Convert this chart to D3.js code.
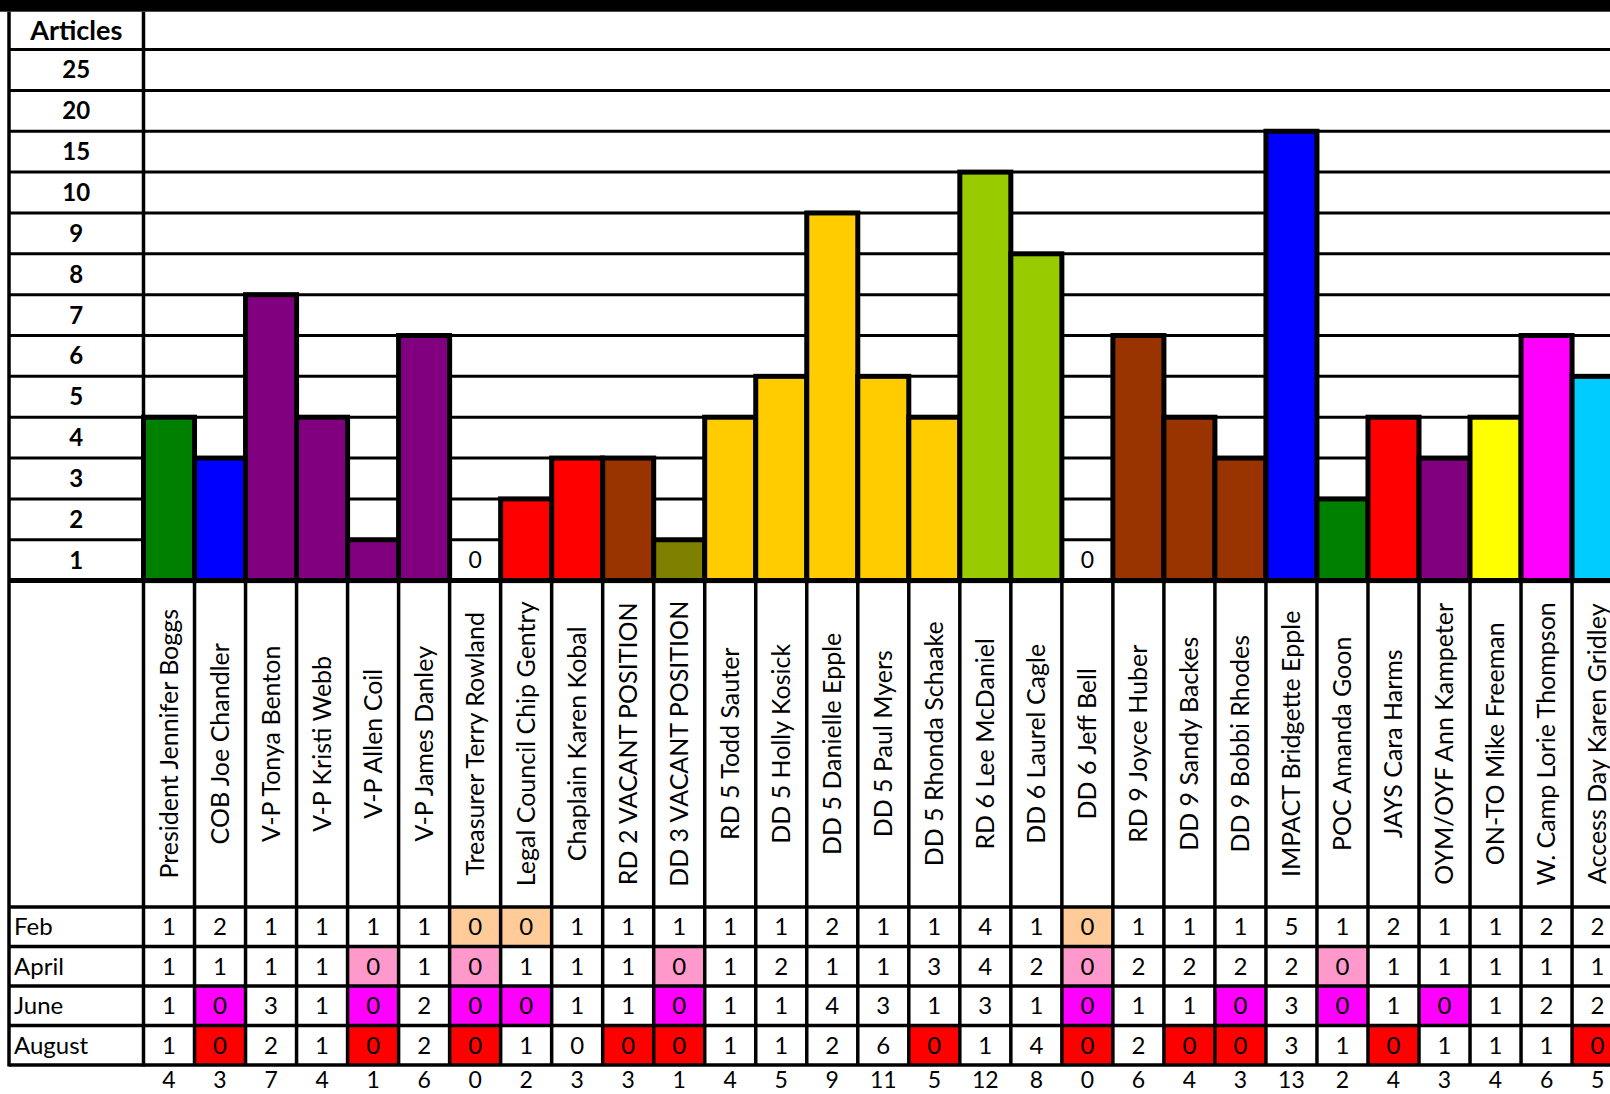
<!DOCTYPE html>
<html>
<head>
<meta charset="utf-8">
<script src="https://cdn.jsdelivr.net/npm/d3@7"></script>
<style>
  html, body { margin: 0; padding: 0; background: #fff; }
  svg { display: block; }
  text { font-family: "Gill Sans", "Gill Sans MT", Lato, "Open Sans", sans-serif; fill: #000; }
</style>
</head>
<body>
<div id="chart"></div>
<script>
// names along the x axis
var categories = ["President Jennifer Boggs", "COB Joe Chandler", "V-P Tonya Benton", "V-P Kristi Webb",
  "V-P Allen Coil", "V-P James Danley", "Treasurer Terry Rowland", "Legal Council Chip Gentry",
  "Chaplain Karen Kobal", "RD 2 VACANT POSITION", "DD 3 VACANT POSITION", "RD 5 Todd Sauter",
  "DD 5 Holly Kosick", "DD 5 Danielle Epple", "DD 5 Paul Myers", "DD 5 Rhonda Schaake",
  "RD 6 Lee McDaniel", "DD 6 Laurel Cagle", "DD 6 Jeff Bell", "RD 9 Joyce Huber",
  "DD 9 Sandy Backes", "DD 9 Bobbi Rhodes", "IMPACT Bridgette Epple", "POC Amanda Goon",
  "JAYS Cara Harms", "OYM/OYF Ann Kampeter", "ON-TO Mike Freeman", "W. Camp Lorie Thompson",
  "Access Day Karen Gridley"];

// bar heights as drawn in the chart
var barValues = [4, 3, 7, 4, 1, 6, 0, 2, 3, 3, 1, 4, 5, 9, 5, 4, 10, 8, 0, 6, 4, 3, 15, 2, 4, 3, 4, 6, 5];

var barColors = ["#008000", "#0000FF", "#800080", "#800080", "#800080", "#800080", "#FFFFFF", "#FF0000",
  "#FF0000", "#993300", "#808000", "#FFCC00", "#FFCC00", "#FFCC00", "#FFCC00", "#FFCC00",
  "#99CC00", "#99CC00", "#FFFFFF", "#993300", "#993300", "#993300", "#0000FF", "#008000",
  "#FF0000", "#800080", "#FFFF00", "#FF00FF", "#00CCFF"];

// y axis ticks (uneven steps)
var yTicks = [1, 2, 3, 4, 5, 6, 7, 8, 9, 10, 15, 20, 25];

// table below the chart
var months = ["Feb", "April", "June", "August"];
var febValues    = [1, 2, 1, 1, 1, 1, 0, 0, 1, 1, 1, 1, 1, 2, 1, 1, 4, 1, 0, 1, 1, 1, 5, 1, 2, 1, 1, 2, 2];
var aprilValues  = [1, 1, 1, 1, 0, 1, 0, 1, 1, 1, 0, 1, 2, 1, 1, 3, 4, 2, 0, 2, 2, 2, 2, 0, 1, 1, 1, 1, 1];
var juneValues   = [1, 0, 3, 1, 0, 2, 0, 0, 1, 1, 0, 1, 1, 4, 3, 1, 3, 1, 0, 1, 1, 0, 3, 0, 1, 0, 1, 2, 2];
var augustValues = [1, 0, 2, 1, 0, 2, 0, 1, 0, 0, 0, 1, 1, 2, 6, 0, 1, 4, 0, 2, 0, 0, 3, 1, 0, 1, 1, 1, 0];
var zeroColors = ["#FFCC99", "#FF99CC", "#FF00FF", "#FF0000"];
var plainZeros = [["August", "Chaplain Karen Kobal"]];

var tableRows = [febValues, aprilValues, juneValues, augustValues];
var totals = categories.map(function(c, i) {
  return d3.sum(tableRows, function(r) { return r[i]; });
});

var width = 1610, height = 1094;
var leftX = 9, colLeft = 143.5, colW = 51.02;
var baseY = 580.6, step = 40.85, headTop = 11.7;
var labelBottom = 907;
var rowH = 39.5;
var tableBottom = labelBottom + rowH * months.length;

var svg = d3.select("#chart").append("svg")
  .attr("width", width)
  .attr("height", height);

svg.append("rect").attr("width", width).attr("height", height).attr("fill", "#fff");

var x = d3.scaleBand()
  .domain(categories)
  .range([colLeft, colLeft + colW * categories.length]);

var yDomain = [0].concat(yTicks);
var y = d3.scaleLinear()
  .domain(yDomain)
  .range(yDomain.map(function(d, i) { return baseY - i * step; }));

// black strip on top
svg.append("rect").attr("x", 0).attr("y", 0).attr("width", width).attr("height", headTop).attr("fill", "#000");

// horizontal grid lines
svg.selectAll("line.grid")
  .data(yTicks)
  .enter().append("line")
  .attr("class", "grid")
  .attr("x1", leftX).attr("x2", width)
  .attr("y1", function(d) { return y(d); }).attr("y2", function(d) { return y(d); })
  .attr("stroke", "#000").attr("stroke-width", 3);

// table cell fills
months.forEach(function(m, r) {
  var vals = tableRows[r];
  categories.forEach(function(c, i) {
    var plain = plainZeros.some(function(p) { return p[0] == m && p[1] == c; });
    if (vals[i] === 0 && !plain) {
      svg.append("rect")
        .attr("x", x(c)).attr("y", labelBottom + r * rowH)
        .attr("width", x.bandwidth()).attr("height", rowH)
        .attr("fill", zeroColors[r]);
    }
  });
});

// bars
var bars = categories.map(function(c, i) { return {name: c, value: barValues[i], color: barColors[i]}; });
svg.selectAll("rect.bar")
  .data(bars.filter(function(d) { return d.value > 0; }))
  .enter().append("rect")
  .attr("class", "bar")
  .attr("x", function(d) { return x(d.name); })
  .attr("y", function(d) { return y(d.value); })
  .attr("width", x.bandwidth())
  .attr("height", function(d) { return y(0) - y(d.value); })
  .attr("fill", function(d) { return d.color; })
  .attr("stroke", "#000").attr("stroke-width", 5);

// "0" for empty bars
svg.selectAll("text.zero")
  .data(bars.filter(function(d) { return d.value === 0; }))
  .enter().append("text")
  .attr("class", "zero")
  .attr("x", function(d) { return x(d.name) + x.bandwidth() / 2; })
  .attr("y", (y(0) + y(1)) / 2 + 8)
  .attr("text-anchor", "middle")
  .style("font-size", "23px")
  .text("0");

// baseline
svg.append("line")
  .attr("x1", leftX).attr("x2", width)
  .attr("y1", baseY).attr("y2", baseY)
  .attr("stroke", "#000").attr("stroke-width", 5);

// vertical lines under the chart
var bounds = categories.map(function(c) { return x(c); });
svg.selectAll("line.vsep")
  .data(bounds.slice(1))
  .enter().append("line")
  .attr("class", "vsep")
  .attr("x1", function(d) { return d; }).attr("x2", function(d) { return d; })
  .attr("y1", baseY).attr("y2", tableBottom)
  .attr("stroke", "#000").attr("stroke-width", 3.5);

// left column borders
[leftX, colLeft].forEach(function(xx) {
  svg.append("line")
    .attr("x1", xx).attr("x2", xx)
    .attr("y1", headTop).attr("y2", tableBottom + 1.5)
    .attr("stroke", "#000").attr("stroke-width", 3.5);
});

// table horizontal lines
d3.range(months.length + 1).forEach(function(r) {
  svg.append("line")
    .attr("x1", leftX).attr("x2", width)
    .attr("y1", labelBottom + r * rowH).attr("y2", labelBottom + r * rowH)
    .attr("stroke", "#000").attr("stroke-width", 3.5);
});

// y labels
var labX = (leftX + colLeft) / 2;
svg.append("text")
  .attr("x", labX).attr("y", (headTop + y(25)) / 2 + 9)
  .attr("text-anchor", "middle")
  .style("font-size", "27px").style("font-weight", "bold")
  .text("Articles");

svg.selectAll("text.ytick")
  .data(yTicks)
  .enter().append("text")
  .attr("class", "ytick")
  .attr("x", labX)
  .attr("y", function(d, i) { return y(d) + step / 2 + 8.5; })
  .attr("text-anchor", "middle")
  .style("font-size", "24px").style("font-weight", "bold")
  .text(function(d) { return d; });

// rotated names
svg.selectAll("text.name")
  .data(categories)
  .enter().append("text")
  .attr("class", "name")
  .attr("transform", function(d) {
    return "translate(" + (x(d) + x.bandwidth() / 2 + 8.5) + "," + ((baseY + labelBottom) / 2) + ") rotate(-90)";
  })
  .attr("text-anchor", "middle")
  .style("font-size", "25px")
  .text(function(d) { return d; });

// month labels and values
months.forEach(function(m, r) {
  var cy = labelBottom + r * rowH + rowH / 2 + 8.5;
  svg.append("text")
    .attr("x", leftX + 5).attr("y", cy)
    .style("font-size", "24px")
    .text(m);
  svg.selectAll("text.v" + r)
    .data(tableRows[r])
    .enter().append("text")
    .attr("class", "v" + r)
    .attr("x", function(d, i) { return x(categories[i]) + x.bandwidth() / 2; })
    .attr("y", cy)
    .attr("text-anchor", "middle")
    .style("font-size", "24px")
    .text(function(d) { return d; });
});

// totals row
svg.selectAll("text.total")
  .data(totals)
  .enter().append("text")
  .attr("class", "total")
  .attr("x", function(d, i) { return x(categories[i]) + x.bandwidth() / 2; })
  .attr("y", 1088)
  .attr("text-anchor", "middle")
  .style("font-size", "23px")
  .text(function(d) { return d; });
</script>
</body>
</html>
